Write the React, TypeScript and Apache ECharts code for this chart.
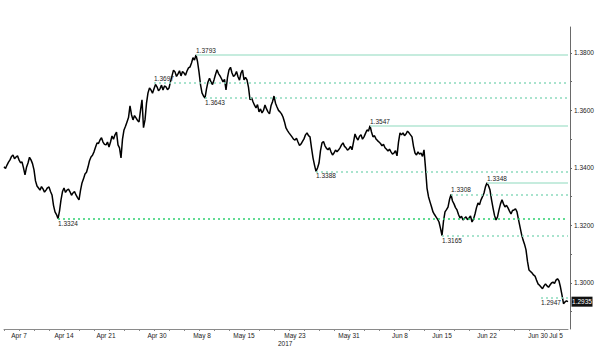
import React, { useEffect, useRef } from "react";
import * as echarts from "echarts";

const prices = [
  1.3404, 1.3398, 1.3410, 1.3420, 1.3428, 1.3440, 1.3445, 1.3432, 1.3438, 1.3442,
  1.3428, 1.3418, 1.3421, 1.3400, 1.3376, 1.3402, 1.3417, 1.3437, 1.3428, 1.3415,
  1.3393, 1.3355, 1.3337, 1.3330, 1.3323, 1.3335, 1.3327, 1.3316, 1.3323, 1.3331,
  1.3334, 1.3318, 1.3306, 1.3270, 1.3247, 1.3238, 1.3224, 1.3250, 1.3289, 1.3318,
  1.3330, 1.3315, 1.3323, 1.3326, 1.3317, 1.3305, 1.3313, 1.3318, 1.3306, 1.3297,
  1.3289, 1.3322, 1.3348, 1.3362, 1.3379, 1.3385, 1.3403, 1.3425, 1.3438, 1.3444,
  1.3456, 1.3472, 1.3487, 1.3485, 1.3497, 1.3505, 1.3490, 1.3482, 1.3480, 1.3490,
  1.3473, 1.3490, 1.3511, 1.3500, 1.3515, 1.3525, 1.3480, 1.3470, 1.3435, 1.3500,
  1.3532, 1.3545, 1.3560, 1.3575, 1.3616, 1.3585, 1.3567, 1.3582, 1.3574, 1.3565,
  1.3560, 1.3600, 1.3637, 1.3540, 1.3567, 1.3625, 1.3661, 1.3678, 1.3671, 1.3660,
  1.3675, 1.3690, 1.3682, 1.3668, 1.3675, 1.3688, 1.3671, 1.3685, 1.3682, 1.3672,
  1.3678, 1.3700, 1.3720, 1.3740, 1.3734, 1.3718, 1.3727, 1.3738, 1.3720, 1.3735,
  1.3730, 1.3722, 1.3737, 1.3748, 1.3751, 1.3765, 1.3783, 1.3775, 1.3793, 1.3770,
  1.3734, 1.3690, 1.3661, 1.3650, 1.3643, 1.3675, 1.3699, 1.3712, 1.3699, 1.3690,
  1.3706, 1.3725, 1.3741, 1.3728, 1.3720, 1.3710, 1.3699, 1.3708, 1.3671, 1.3715,
  1.3741, 1.3750, 1.3730, 1.3718, 1.3723, 1.3735, 1.3717, 1.3705, 1.3730, 1.3740,
  1.3706, 1.3715, 1.3706, 1.3680, 1.3637, 1.3645, 1.3630, 1.3618, 1.3609, 1.3620,
  1.3595, 1.3605, 1.3591, 1.3600, 1.3619, 1.3605, 1.3595, 1.3588, 1.3616, 1.3630,
  1.3650, 1.3625, 1.3612, 1.3600, 1.3595, 1.3588, 1.3577, 1.3560, 1.3539, 1.3530,
  1.3522, 1.3515, 1.3508, 1.3500, 1.3497, 1.3503, 1.3490, 1.3478, 1.3483, 1.3492,
  1.3501, 1.3515, 1.3522, 1.3512, 1.3508, 1.3470, 1.3435, 1.3410, 1.3388, 1.3400,
  1.3417, 1.3460, 1.3487, 1.3492, 1.3477, 1.3468, 1.3463, 1.3470, 1.3456, 1.3445,
  1.3452, 1.3462, 1.3456, 1.3462, 1.3470, 1.3480, 1.3487, 1.3475, 1.3470, 1.3462,
  1.3466, 1.3475, 1.3463, 1.3490, 1.3518, 1.3505, 1.3497, 1.3510, 1.3515, 1.3500,
  1.3508, 1.3520, 1.3532, 1.3528, 1.3547, 1.3525, 1.3508, 1.3512, 1.3501, 1.3495,
  1.3490, 1.3485, 1.3477, 1.3482, 1.3470, 1.3465, 1.3459, 1.3465, 1.3456, 1.3448,
  1.3452, 1.3460, 1.3442, 1.3490, 1.3522, 1.3515, 1.3522, 1.3512, 1.3518, 1.3528,
  1.3522, 1.3515, 1.3508, 1.3475, 1.3452, 1.3445, 1.3456, 1.3448, 1.3452, 1.3440,
  1.3463, 1.3400, 1.3330, 1.3300, 1.3282, 1.3265, 1.3247, 1.3238, 1.3230, 1.3222,
  1.3212, 1.3190, 1.3165, 1.3215, 1.3247, 1.3255, 1.3264, 1.3290, 1.3308, 1.3285,
  1.3275, 1.3262, 1.3254, 1.3238, 1.3226, 1.3232, 1.3219, 1.3225, 1.3230, 1.3220,
  1.3226, 1.3233, 1.3212, 1.3222, 1.3240, 1.3262, 1.3278, 1.3272, 1.3289, 1.3300,
  1.3313, 1.3335, 1.3348, 1.3338, 1.3323, 1.3290, 1.3261, 1.3235, 1.3219, 1.3230,
  1.3254, 1.3275, 1.3289, 1.3275, 1.3264, 1.3270, 1.3261, 1.3250, 1.3240, 1.3252,
  1.3254, 1.3258, 1.3247, 1.3220, 1.3195, 1.3170, 1.3150, 1.3135, 1.3115, 1.3075,
  1.3045, 1.3040, 1.3035, 1.3028, 1.3024, 1.3010, 1.2997, 1.2992, 1.2986, 1.2980,
  1.2990, 1.2997, 1.2990, 1.2985, 1.2993, 1.3000, 1.3003, 1.2998, 1.3010, 1.3015,
  1.3007, 1.2985, 1.2958, 1.2928, 1.2934, 1.2938, 1.2935,
];

const xLabelIndex = [10, 40, 68, 102, 132, 160, 194, 230, 264, 292, 322, 356, 368];
const xLabels = ["Apr 7", "Apr 14", "Apr 21", "Apr 30", "May 8", "May 15", "May 23", "May 31", "Jun 8", "Jun 15", "Jun 22", "Jun 30", "Jul 5"];
const yearLabel = "2017";
const yLabelValues = [1.3, 1.32, 1.34, 1.36, 1.38];
const yTickValues = [1.29, 1.3, 1.31, 1.32, 1.33, 1.34, 1.35, 1.36, 1.37, 1.38];

const levelValues = [1.3793, 1.3697, 1.3643, 1.3547, 1.3388, 1.3348, 1.3308, 1.3224, 1.3165, 1.2947];
const levelLabels = ["1.3793", "1.3697", "1.3643", "1.3547", "1.3388", "1.3348", "1.3308", "1.3324", "1.3165", "1.2947"];
const levelStart = [128, 100, 134, 244, 208, 322, 298, 36, 292, 358];
const levelKinds = ["peak", "level", "level", "peak", "level", "peak", "level", "key", "level", "level"];
const levelSide = ["above", "above", "below", "above", "below", "above", "above", "below", "below", "below"];
const lastLabel = "1.2935";

const FONT = "Liberation Sans, Arial, sans-serif";

export default function App() {
  const ref = useRef<HTMLDivElement>(null);
  useEffect(() => {
    if (!ref.current) return;
    const chart = echarts.init(ref.current, null, { renderer: "svg" });
    const categories = prices.map((_, i) => String(i));
    const lastIdx = prices.length - 1;

    const kindStyle: Record<string, any> = {
      peak: { color: "#b3e6d3", width: 1.5, type: "solid" },
      level: { color: "#8cdabd", width: 1.5, type: [2, 3] },
      key: { color: "#2ecf70", width: 1.5, type: [2, 3] },
    };

    const levelLines: any[] = levelValues.map((v, i) => [
      {
        coord: [String(levelStart[i]), v],
        lineStyle: kindStyle[levelKinds[i]],
        label: {
          show: true,
          formatter: levelLabels[i],
          position: levelSide[i] === "above" ? "insideStartTop" : "insideStartBottom",
          distance: [0, 1],
          fontSize: 6.5,
          fontFamily: FONT,
          color: "#222",
        },
      },
      { coord: [String(lastIdx), v] },
    ]);

    chart.setOption({
      animation: false,
      backgroundColor: "#fff",
      grid: { left: 4, right: 32, top: 27, bottom: 32, containLabel: false },
      xAxis: {
        type: "category",
        data: categories,
        boundaryGap: false,
        axisLine: { show: true, lineStyle: { color: "#8a8a8a", width: 1 } },
        axisTick: {
          show: true,
          interval: (i: number) => i % 10 === 0,
          length: 2,
          lineStyle: { color: "#8a8a8a" },
        },
        axisLabel: {
          interval: (i: number) => xLabelIndex.includes(i),
          formatter: (_v: string, i: number) => {
            const k = xLabelIndex.indexOf(i);
            return k >= 0 ? xLabels[k] : "";
          },
          fontSize: 6.5,
          fontFamily: FONT,
          color: "#222",
          margin: 3,
        },
        splitLine: { show: false },
      },
      yAxis: {
        type: "value",
        position: "right",
        offset: 2,
        min: 1.284,
        max: 1.389,
        axisLine: { show: true, lineStyle: { color: "#6a6a6a", width: 1 } },
        axisTick: {
          show: true,
          customValues: yTickValues,
          length: 2,
          lineStyle: { color: "#6a6a6a" },
        },
        axisLabel: {
          customValues: yLabelValues,
          formatter: (v: number) => v.toFixed(4),
          fontSize: 6.5,
          fontFamily: FONT,
          color: "#222",
          margin: 4,
        },
        splitLine: { show: false },
      },
      graphic: [
        {
          type: "text",
          left: 278,
          top: 340,
          style: { text: yearLabel, fontSize: 6.5, fontFamily: FONT, fill: "#222" },
        },
      ],
      series: [
        {
          type: "line",
          data: prices,
          showSymbol: false,
          symbol: "none",
          lineStyle: { color: "#000", width: 1.5 },
          z: 3,
          markLine: {
            silent: true,
            symbol: ["none", "none"],
            animation: false,
            data: levelLines,
          },
          markPoint: {
            silent: true,
            animation: false,
            data: [
              {
                coord: [String(lastIdx), prices[lastIdx]],
                symbol: "rect",
                symbolSize: [21, 10],
                symbolOffset: [14, 0],
                itemStyle: { color: "#111" },
                label: {
                  show: true,
                  position: "inside",
                  formatter: lastLabel,
                  color: "#fff",
                  fontSize: 6.5,
                  fontFamily: FONT,
                },
              },
            ],
          },
        },
      ],
    });
    return () => chart.dispose();
  }, []);
  return (
    <div
      ref={ref}
      style={{ position: "absolute", left: 0, top: 0, width: 600, height: 361 }}
    />
  );
}
